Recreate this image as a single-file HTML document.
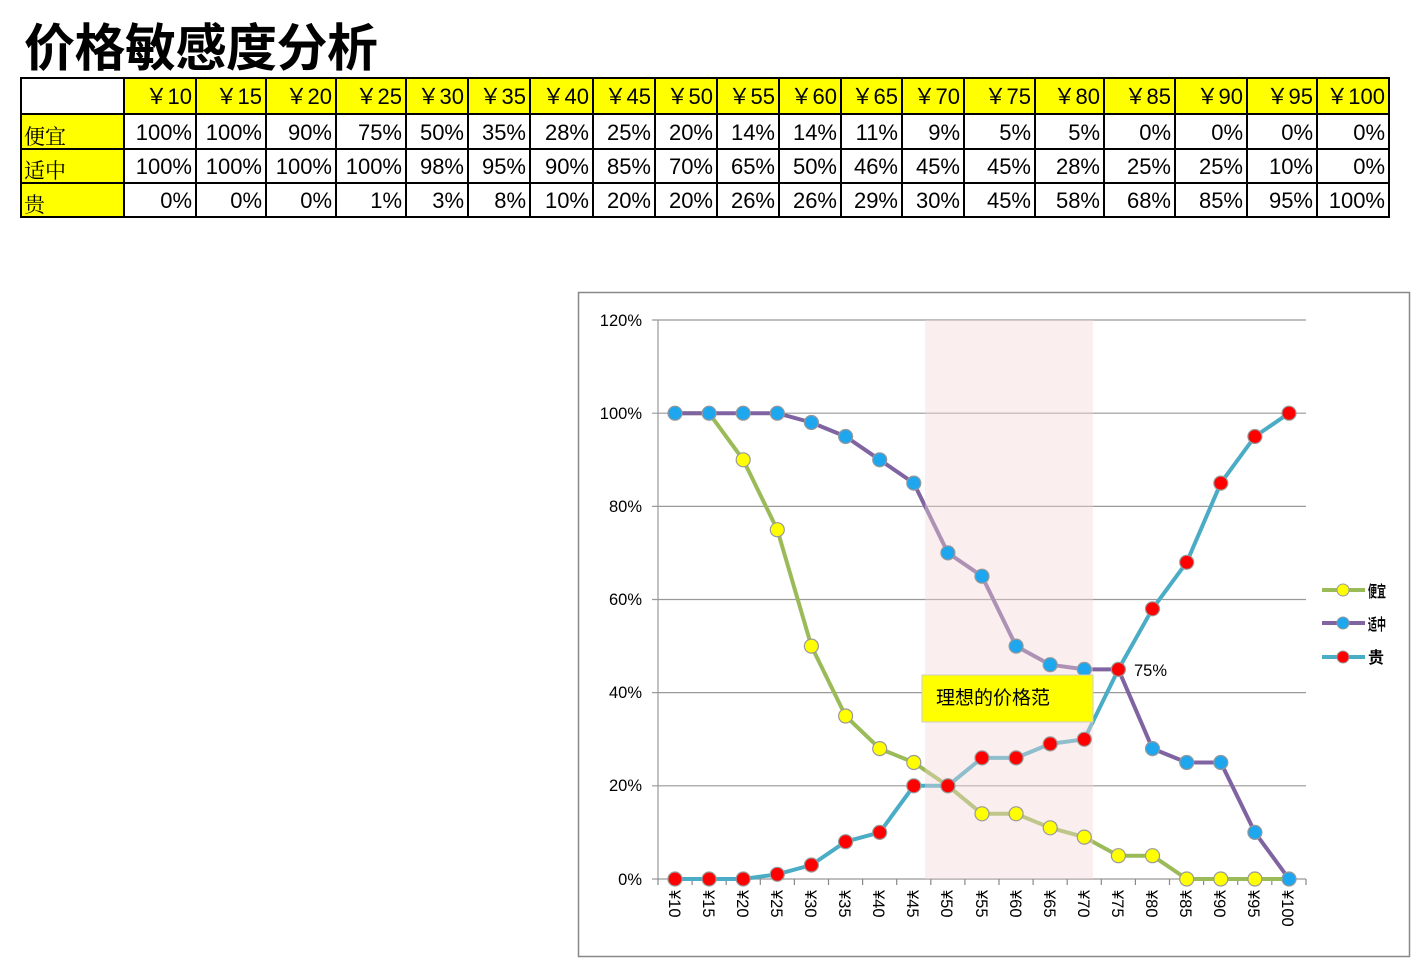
<!DOCTYPE html>
<html><head><meta charset="utf-8"><style>
body{margin:0;width:1421px;height:970px;background:#fff;position:relative;overflow:hidden;font-family:"Liberation Sans","Noto Sans CJK SC",sans-serif}
h1{position:absolute;left:24px;top:12px;margin:0;font-size:51px;font-weight:bold;font-family:"Noto Sans CJK SC","WenQuanYi Zen Hei",sans-serif;line-height:64px;letter-spacing:-0.5px}
table{position:absolute;left:20px;top:77px;border-collapse:collapse;table-layout:fixed;font-size:22px}
td{border:2px solid #000;padding:2px 3px 0 0;text-align:right;white-space:nowrap;overflow:hidden;line-height:28px}
tr.h td{background:#ff0;height:32px}
tr td:first-child{background:#ff0;text-align:left;vertical-align:bottom;font-family:"Noto Serif CJK SC",serif;font-size:21px;line-height:24px;padding-left:2px}
tr.h td:first-child{background:#fff}
</style></head><body>
<h1>价格敏感度分析</h1>
<table>
<colgroup><col style="width:103px"><col style="width:72px"><col style="width:70px"><col style="width:70px"><col style="width:70px"><col style="width:62px"><col style="width:62px"><col style="width:63px"><col style="width:62px"><col style="width:62px"><col style="width:62px"><col style="width:62px"><col style="width:61px"><col style="width:62px"><col style="width:71px"><col style="width:69px"><col style="width:71px"><col style="width:72px"><col style="width:70px"><col style="width:72px"></colgroup>
<tr class="h"><td></td><td>￥10</td><td>￥15</td><td>￥20</td><td>￥25</td><td>￥30</td><td>￥35</td><td>￥40</td><td>￥45</td><td>￥50</td><td>￥55</td><td>￥60</td><td>￥65</td><td>￥70</td><td>￥75</td><td>￥80</td><td>￥85</td><td>￥90</td><td>￥95</td><td>￥100</td></tr>
<tr style="height:35px"><td>便宜</td><td>100%</td><td>100%</td><td>90%</td><td>75%</td><td>50%</td><td>35%</td><td>28%</td><td>25%</td><td>20%</td><td>14%</td><td>14%</td><td>11%</td><td>9%</td><td>5%</td><td>5%</td><td>0%</td><td>0%</td><td>0%</td><td>0%</td></tr>
<tr style="height:34px"><td>适中</td><td>100%</td><td>100%</td><td>100%</td><td>100%</td><td>98%</td><td>95%</td><td>90%</td><td>85%</td><td>70%</td><td>65%</td><td>50%</td><td>46%</td><td>45%</td><td>45%</td><td>28%</td><td>25%</td><td>25%</td><td>10%</td><td>0%</td></tr>
<tr style="height:34px"><td>贵</td><td>0%</td><td>0%</td><td>0%</td><td>1%</td><td>3%</td><td>8%</td><td>10%</td><td>20%</td><td>20%</td><td>26%</td><td>26%</td><td>29%</td><td>30%</td><td>45%</td><td>58%</td><td>68%</td><td>85%</td><td>95%</td><td>100%</td></tr>
</table>
<svg width="1421" height="970" style="position:absolute;left:0;top:0;font-family:'Liberation Sans',sans-serif">
<rect x="578.5" y="292.5" width="831" height="664" fill="#fff" stroke="#888" stroke-width="1.5"/>
<g stroke="#999" stroke-width="1.2">
<line x1="652" y1="320" x2="1306" y2="320"/><line x1="652" y1="413.2" x2="1306" y2="413.2"/><line x1="652" y1="506.4" x2="1306" y2="506.4"/><line x1="652" y1="599.5" x2="1306" y2="599.5"/><line x1="652" y1="692.6" x2="1306" y2="692.6"/><line x1="652" y1="785.8" x2="1306" y2="785.8"/><line x1="652" y1="879" x2="1306" y2="879"/>
<line x1="658" y1="320" x2="658" y2="879"/>
</g>
<g stroke="#888" stroke-width="1.2">
<path d="M658 879v6M692.1 879v6M726.2 879v6M760.3 879v6M794.4 879v6M828.5 879v6M862.6 879v6M896.7 879v6M930.8 879v6M964.9 879v6M999 879v6M1033.1 879v6M1067.2 879v6M1101.3 879v6M1135.4 879v6M1169.5 879v6M1203.6 879v6M1237.7 879v6M1271.8 879v6M1306 879v6"/>
</g>
<g style="font-size:16.5px" text-anchor="end" fill="#000">
<text x="642" y="326">120%</text><text x="642" y="419">100%</text><text x="642" y="512">80%</text><text x="642" y="605">60%</text><text x="642" y="698">40%</text><text x="642" y="791">20%</text><text x="642" y="885">0%</text>
</g>
<g style="font-size:16.5px" fill="#000">
<text transform="translate(669,890) rotate(90)">¥10</text><text transform="translate(703,890) rotate(90)">¥15</text><text transform="translate(737,890) rotate(90)">¥20</text><text transform="translate(771,890) rotate(90)">¥25</text><text transform="translate(805,890) rotate(90)">¥30</text><text transform="translate(839,890) rotate(90)">¥35</text><text transform="translate(873,890) rotate(90)">¥40</text><text transform="translate(907,890) rotate(90)">¥45</text><text transform="translate(941,890) rotate(90)">¥50</text><text transform="translate(976,890) rotate(90)">¥55</text><text transform="translate(1010,890) rotate(90)">¥60</text><text transform="translate(1044,890) rotate(90)">¥65</text><text transform="translate(1078,890) rotate(90)">¥70</text><text transform="translate(1112,890) rotate(90)">¥75</text><text transform="translate(1146,890) rotate(90)">¥80</text><text transform="translate(1180,890) rotate(90)">¥85</text><text transform="translate(1214,890) rotate(90)">¥90</text><text transform="translate(1248,890) rotate(90)">¥95</text><text transform="translate(1282,890) rotate(90)">¥100</text>
</g>
<g fill="none" stroke-width="4" stroke-linejoin="round">
<polyline stroke="#9bbb59" points="675,413.2 709.1,413.2 743.2,459.8 777.3,529.7 811.4,646.1 845.6,716 879.7,748.6 913.8,762.5 947.9,785.8 982,813.8 1016.1,813.8 1050.2,827.8 1084.3,837.1 1118.4,855.7 1152.5,855.7 1186.7,879 1220.8,879 1254.9,879 1289,879"/>
<polyline stroke="#8064a2" points="675,413.2 709.1,413.2 743.2,413.2 777.3,413.2 811.4,422.5 845.6,436.5 879.7,459.8 913.8,483.1 947.9,552.9 982,576.2 1016.1,646.1 1050.2,664.7 1084.3,669.4 1118.4,669.4 1152.5,748.6 1186.7,762.5 1220.8,762.5 1254.9,832.4 1289,879"/>
<polyline stroke="#4bacc6" points="675,879 709.1,879 743.2,879 777.3,874.3 811.4,865 845.6,841.7 879.7,832.4 913.8,785.8 947.9,785.8 982,757.9 1016.1,757.9 1050.2,743.9 1084.3,739.3 1118.4,669.4 1152.5,608.8 1186.7,562.3 1220.8,483.1 1254.9,436.5 1289,413.2"/>
</g>
<rect x="925" y="320" width="168" height="559" fill="#f2d8d5" opacity="0.4"/>
<g stroke="#999" stroke-width="1.2">
<g fill="#ffff00"><circle cx="743.2" cy="459.8" r="7"/><circle cx="777.3" cy="529.7" r="7"/><circle cx="811.4" cy="646.1" r="7"/><circle cx="845.6" cy="716" r="7"/><circle cx="879.7" cy="748.6" r="7"/><circle cx="913.8" cy="762.5" r="7"/><circle cx="947.9" cy="785.8" r="7"/><circle cx="982" cy="813.8" r="7"/><circle cx="1016.1" cy="813.8" r="7"/><circle cx="1050.2" cy="827.8" r="7"/><circle cx="1084.3" cy="837.1" r="7"/><circle cx="1118.4" cy="855.7" r="7"/><circle cx="1152.5" cy="855.7" r="7"/><circle cx="1186.7" cy="879" r="7"/><circle cx="1220.8" cy="879" r="7"/><circle cx="1254.9" cy="879" r="7"/></g>
<g fill="#1ea6ee"><circle cx="675" cy="413.2" r="7"/><circle cx="709.1" cy="413.2" r="7"/><circle cx="743.2" cy="413.2" r="7"/><circle cx="777.3" cy="413.2" r="7"/><circle cx="811.4" cy="422.5" r="7"/><circle cx="845.6" cy="436.5" r="7"/><circle cx="879.7" cy="459.8" r="7"/><circle cx="913.8" cy="483.1" r="7"/><circle cx="947.9" cy="552.9" r="7"/><circle cx="982" cy="576.2" r="7"/><circle cx="1016.1" cy="646.1" r="7"/><circle cx="1050.2" cy="664.7" r="7"/><circle cx="1084.3" cy="669.4" r="7"/><circle cx="1152.5" cy="748.6" r="7"/><circle cx="1186.7" cy="762.5" r="7"/><circle cx="1220.8" cy="762.5" r="7"/><circle cx="1254.9" cy="832.4" r="7"/><circle cx="1289" cy="879" r="7"/></g>
<g fill="#ff0000"><circle cx="675" cy="879" r="7"/><circle cx="709.1" cy="879" r="7"/><circle cx="743.2" cy="879" r="7"/><circle cx="777.3" cy="874.3" r="7"/><circle cx="811.4" cy="865" r="7"/><circle cx="845.6" cy="841.7" r="7"/><circle cx="879.7" cy="832.4" r="7"/><circle cx="913.8" cy="785.8" r="7"/><circle cx="947.9" cy="785.8" r="7"/><circle cx="982" cy="757.9" r="7"/><circle cx="1016.1" cy="757.9" r="7"/><circle cx="1050.2" cy="743.9" r="7"/><circle cx="1084.3" cy="739.3" r="7"/><circle cx="1118.4" cy="669.4" r="7"/><circle cx="1152.5" cy="608.8" r="7"/><circle cx="1186.7" cy="562.3" r="7"/><circle cx="1220.8" cy="483.1" r="7"/><circle cx="1254.9" cy="436.5" r="7"/><circle cx="1289" cy="413.2" r="7"/></g>
</g>
<text x="1134" y="676" style="font-size:16.5px">75%</text>
<rect x="922" y="675" width="171" height="47" fill="#ffff00" stroke="#ccc"/>
<text x="936" y="704" style="font-size:19px;font-family:'Noto Sans CJK SC',sans-serif">理想的价格范</text>
<g stroke-width="4">
<line x1="1322" y1="590" x2="1365" y2="590" stroke="#9bbb59"/>
<line x1="1322" y1="623" x2="1365" y2="623" stroke="#8064a2"/>
<line x1="1322" y1="657" x2="1365" y2="657" stroke="#4bacc6"/>
</g>
<circle cx="1343" cy="590" r="6" fill="#ff0" stroke="#999"/>
<circle cx="1343" cy="623" r="6" fill="#1ea6ee" stroke="#999"/>
<circle cx="1343" cy="657" r="6" fill="#f00" stroke="#999"/>
<g style="font-size:16px;font-weight:bold;font-family:'Noto Sans CJK SC',sans-serif">
<text x="1368" y="597" textLength="18" lengthAdjust="spacingAndGlyphs">便宜</text>
<text x="1368" y="630" textLength="18" lengthAdjust="spacingAndGlyphs">适中</text>
<text x="1368" y="663">贵</text>
</g>
</svg>
</body></html>
